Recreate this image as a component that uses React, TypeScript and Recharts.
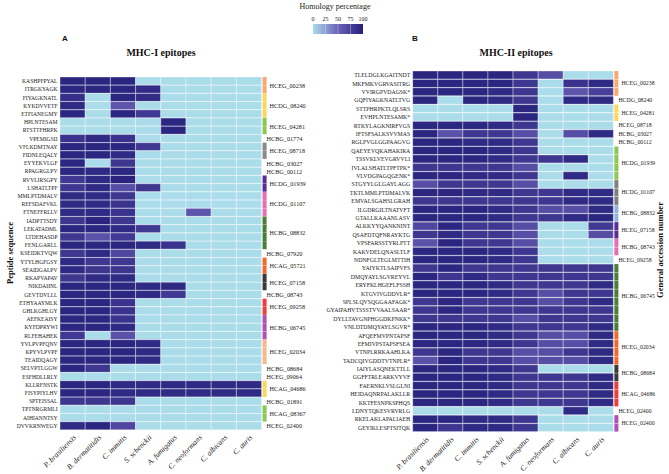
import React from "react";
import { BarChart, Bar, XAxis, YAxis, Cell, LabelList } from "recharts";

const species = [
  "P. brasiliensis",
  "B. dermatitidis",
  "C. immitis",
  "S. schenckii",
  "A. fumigatus",
  "C. neoformans",
  "C. albicans",
  "C. auris",
];

// ---------- MHC-I ----------
const mhc1Peptides = [
  "KASHPFPYAL", "ITRGKYAGK", "FIYAGKNATL", "KYKDVVETF", "ETFIANEGMY", "HPLNTESAM",
  "RTSTTFHRPK", "VPEMIGSII", "VFLKDMTNAY", "FIDNLEQALY", "EYYEKVLGF", "RPAGRGLPV",
  "RVVLIRSGPY", "LSHATLTPF", "MMLPTDMALV", "REFSDAFVKL", "FTNEFFRLLV", "IADPTTSDY",
  "LEKATADML", "LTDEHASDP", "FENLGARLL", "KSEIDKTVQW", "YTYLHGFGSY", "SEAIDGALPV",
  "RKAPVAPAV", "NIKDAIINL", "GEVTDVLLL", "ETHYAAYMLK", "GHLKGHLGY", "AEFKEAISY",
  "KYFDPRYWI", "RLFEHAHEK", "YVLPVPFQNV", "KPYVLPVPF", "TEAIDQAGY", "SELVPTLGGW",
  "ESFHDLLRLY", "KLLRFNSTK", "FISYPIYLHV", "SPTEISSAL", "TPTNRGRMLI", "AIHIANNTSY",
  "DVVKRNWEGY",
];
const mhc1Pbr = [95, 95, 88, 92, 95, 0, 0, 85, 95, 95, 95, 95, 80, 82, 92, 92, 92, 82, 95, 82, 95, 82, 92, 92, 82, 95, 95, 95, 95, 95, 95, 80, 95, 95, 95, 95, 0, 95, 95, 82, 0, 0, 92];
const mhc1Bde = [95, 95, 0, 0, 0, 0, 0, 92, 95, 95, 0, 92, 92, 92, 92, 92, 92, 96, 95, 62, 95, 92, 82, 82, 92, 95, 95, 95, 95, 95, 95, 0, 95, 95, 95, 82, 0, 95, 95, 82, 0, 0, 95];
const mhc1Cim = [95, 95, 95, 60, 95, 0, 0, 85, 95, 92, 82, 95, 96, 65, 82, 85, 85, 82, 92, 80, 95, 70, 82, 82, 92, 95, 95, 85, 85, 85, 92, 62, 95, 95, 95, 0, 0, 92, 92, 82, 0, 0, 70];
const mhc1Ssc = [0, 90, 90, 0, 80, 0, 0, 0, 80, 0, 0, 0, 0, 82, 0, 0, 0, 0, 80, 0, 92, 0, 0, 0, 0, 92, 92, 0, 0, 0, 0, 0, 92, 92, 92, 0, 0, 92, 92, 0, 0, 0, 0];
const mhc1Afu = [0, 0, 0, 0, 0, 95, 95, 0, 0, 0, 0, 0, 0, 0, 0, 0, 0, 0, 0, 0, 85, 0, 0, 0, 0, 92, 80, 0, 0, 0, 0, 0, 0, 0, 0, 0, 0, 92, 92, 0, 0, 0, 0];
const mhc1Cne = [0, 0, 0, 0, 0, 0, 0, 0, 0, 0, 0, 0, 0, 0, 0, 0, 60, 0, 0, 0, 0, 0, 0, 0, 0, 0, 0, 0, 0, 0, 0, 0, 0, 0, 0, 0, 0, 92, 92, 0, 0, 0, 0];
const mhc1Cal = [0, 0, 0, 0, 0, 0, 0, 0, 0, 0, 0, 0, 0, 0, 0, 0, 0, 0, 0, 0, 0, 0, 0, 0, 0, 0, 0, 0, 0, 0, 0, 0, 0, 0, 0, 0, 0, 92, 92, 0, 0, 0, 0];
const mhc1Cau = [0, 0, 0, 0, 0, 0, 0, 0, 0, 0, 0, 0, 0, 0, 0, 0, 0, 0, 0, 0, 0, 0, 0, 0, 0, 0, 0, 0, 0, 0, 0, 0, 0, 0, 0, 0, 0, 92, 92, 0, 0, 0, 0];
const mhc1GroupIds = [
  "HCEG_00238", "HCDG_08240", "HCEG_04281", "HCBG_01774", "HCEG_08718", "HCBG_03027",
  "HCBG_00112", "HCDG_01939", "HCDG_01107", "HCBG_08832", "HCBG_07920", "HCAG_05721",
  "HCEG_07158", "HCBG_08743", "HCEG_09258", "HCBG_06745", "HCEG_02034", "HCBG_08684",
  "HCEG_09064", "HCAG_04686", "HCBG_01891", "HCAG_08367", "HCEG_02400",
];
const mhc1GroupSizes = [2, 3, 2, 1, 2, 1, 1, 2, 3, 4, 1, 2, 2, 1, 2, 3, 3, 1, 1, 2, 1, 2, 1];
const mhc1GroupColors = [
  "#f6a971", "#fbd75b", "#8cc751", null, "#8a8a8a", null, null, "#5c2d91", "#e56fb1",
  "#4a7d35", null, "#f26a2b", "#3b3b3b", null, "#ec3e3a", "#b14fb6", "#f8b68c", null,
  null, "#fbd75b", null, "#8cc751", null,
];

// ---------- MHC-II ----------
const mhc2Peptides = [
  "TLELDGLKGAITNDT", "MKFMKVGRVASITRG", "VVIRGPVDAGSK*", "GQFIYAGKNATLTVG",
  "STTPHRPKTLQLSRS", "EVHPLNTESAMK*", "RTKYLAGKNIRFVGS", "IFTSFSALKSVVMAS",
  "RGLPVGLGGPAAGVG", "QAEYEVQKAHAKIRA", "TSSVKLVEVGRVVLI", "IVLALSHATLTPFTPK*",
  "VLVDGPAGQGENK*", "STGYYLGLGAYLAGG", "TKTLMMLPTDMALVK", "EMVALSGAHSLGRAH",
  "ILGDRGILTNATVFT", "GTALLKAAANLASV", "ALKKYYQANKNINT", "QSAFDTQFNRAYKTG",
  "VPSFARSSTYRLPTT", "KAKVDELQNASLTLF", "NDNFGLTEGLMTTIH", "YAIYKTLSAIPVFS",
  "DMQYAYLSGVREYVL", "ERYFKLHGEFLFSSH", "KTGVIVGDDVLR*", "SPLSLQVSQGGAAFAGK*",
  "GYAIPAHVTSSSTVVAALSAAR*", "DYLLTAVGNPHGGDKPNKK*", "VNLDTDMQYAYLSGVR*",
  "AFQEFMVPNTAPSF", "EFMIVPSTAPSFSEA", "VTNPLRRKAAHLKA", "TADCQIVGDDTVTNPLR*",
  "IAIYLASQNEKTTLL", "GGFFTRLEARKVYVF", "FAERNKLVSLGLNI", "HEIDAQNRPALAKLLR",
  "KKTFESNPKSPHQS", "LDNYTQKESVRVRLG", "RKELAKLAPALIAEH", "GEYIKLESPTSITQK",
];
const mhc2Pbr = [95, 95, 95, 95, 0, 0, 95, 95, 95, 95, 95, 82, 95, 65, 95, 82, 95, 95, 70, 82, 62, 95, 95, 82, 95, 95, 95, 82, 82, 82, 95, 95, 95, 82, 62, 95, 95, 95, 95, 95, 0, 95, 95];
const mhc2Bde = [95, 95, 95, 0, 0, 0, 95, 62, 95, 95, 95, 82, 95, 82, 95, 82, 95, 95, 95, 92, 95, 95, 95, 95, 82, 95, 95, 95, 95, 82, 95, 95, 95, 95, 95, 95, 95, 95, 95, 95, 0, 95, 82];
const mhc2Cim = [95, 95, 95, 95, 0, 0, 95, 82, 92, 95, 95, 82, 92, 82, 92, 82, 95, 95, 82, 82, 82, 95, 95, 82, 92, 95, 95, 82, 82, 82, 95, 95, 95, 82, 82, 95, 95, 95, 95, 95, 0, 92, 92];
const mhc2Ssc = [95, 95, 92, 92, 0, 0, 92, 82, 92, 92, 92, 82, 92, 82, 92, 82, 92, 92, 82, 82, 82, 92, 92, 82, 82, 92, 92, 82, 82, 82, 92, 92, 92, 82, 82, 92, 92, 92, 92, 92, 0, 92, 92];
const mhc2Afu = [82, 82, 82, 82, 95, 95, 82, 65, 82, 82, 82, 65, 82, 65, 82, 82, 82, 82, 65, 65, 65, 82, 82, 82, 82, 82, 82, 82, 82, 65, 82, 82, 82, 65, 65, 82, 82, 82, 82, 82, 0, 82, 82];
const mhc2Cne = [65, 0, 0, 0, 0, 0, 0, 0, 0, 0, 82, 0, 0, 0, 82, 82, 65, 82, 0, 0, 0, 0, 0, 82, 82, 82, 65, 65, 82, 82, 82, 65, 65, 65, 65, 0, 82, 82, 82, 82, 0, 0, 0];
const mhc2Cal = [0, 85, 60, 92, 0, 0, 0, 65, 0, 0, 92, 0, 92, 0, 92, 92, 65, 92, 0, 0, 0, 0, 0, 82, 82, 82, 82, 82, 82, 82, 82, 65, 65, 82, 65, 0, 82, 82, 82, 82, 92, 0, 0];
const mhc2Cau = [0, 92, 75, 92, 0, 0, 0, 92, 0, 0, 0, 0, 0, 0, 92, 92, 92, 95, 80, 65, 0, 0, 0, 82, 82, 92, 82, 92, 82, 82, 92, 92, 92, 92, 92, 0, 92, 92, 92, 92, 0, 0, 0];
const mhc2GroupIds = [
  "HCEG_00238", "HCDG_08240", "HCEG_04281", "HCEG_08718", "HCBG_03027", "HCBG_00112",
  "HCDG_01939", "HCDG_01107", "HCBG_08832", "HCEG_07158", "HCBG_08743", "HCEG_09258",
  "HCBG_06745", "HCEG_02034", "HCBG_08684", "HCAG_04686", "HCEG_02400", "HCEG_02400",
];
const mhc2GroupSizes = [3, 1, 2, 1, 1, 1, 4, 3, 2, 2, 2, 1, 8, 4, 2, 3, 1, 2];
const mhc2GroupColors = [
  "#f6a971", null, "#fbd75b", null, null, null, "#8cc751", "#7f7f7f", "#8fb2de",
  "#5c2d91", "#e56fb1", null, "#4a7d35", "#f26a2b", "#3b3b3b", "#ec3e3a", null, "#b14fb6",
];

// ---------- helpers ----------
const LOW = [171, 220, 234];
const MID = [107, 97, 184];
const HIGH = [36, 31, 122];

function heatColor(v: number) {
  const t = Math.max(0, Math.min(1, v / 100));
  const [a, b, f] = t < 0.5 ? [LOW, MID, t / 0.5] : [MID, HIGH, (t - 0.5) / 0.5];
  const c = (a as number[]).map((x, i) => Math.round(x + ((b as number[])[i] - x) * (f as number)));
  return `rgb(${c[0]},${c[1]},${c[2]})`;
}

const serif = "'Liberation Serif', 'Times New Roman', serif";
const keys = ["c0", "c1", "c2", "c3", "c4", "c5", "c6", "c7"];

function buildRows(peptides: string[], cols: number[][], sizes: number[], colors: (string | null)[]) {
  const rowGroup: number[] = [];
  sizes.forEach((s, g) => {
    for (let i = 0; i < s; i++) rowGroup.push(g);
  });
  return peptides.map((p, i) => {
    const row: any = { peptide: p, rowKey: "r" + i, gap: 0.04, strip: 0.16, group: rowGroup[i] };
    keys.forEach((k, j) => {
      row[k] = 1;
      row["v" + j] = cols[j][i];
    });
    row.stripColor = colors[rowGroup[i]] || "transparent";
    return row;
  });
}

const SpeciesTick = ({ x, y, payload }: any) => {
  const ax = x + 4;
  const ay = y + 6;
  return (
    <text
      x={ax}
      y={ay}
      transform={`rotate(-45 ${ax} ${ay})`}
      textAnchor="end"
      fontSize={7.6}
      fontStyle="italic"
      fontFamily={serif}
      fill="#1a1a1a"
    >
      {species[Math.floor(payload.value)]}
    </text>
  );
};

function Heatmap({ rows, ids, sizes, colors, width, top, bottom, yWidth, right, fontSize, idFontSize }: any) {
  const firstRow: Record<number, number> = {};
  rows.forEach((r: any, i: number) => {
    if (firstRow[r.group] === undefined) firstRow[r.group] = i;
  });
  const groupLabel = (props: any) => {
    const { x, y, width: w, height: h, value } = props;
    const i = Number(String(value).slice(1));
    const g = rows[i].group;
    if (firstRow[g] !== i) return null;
    const hasBar = !!colors[g];
    return (
      <text
        x={x + w + (hasBar ? 3 : 0)}
        y={y + (sizes[g] * h) / 2}
        dominantBaseline="central"
        fontSize={idFontSize}
        fontFamily={serif}
        fill="#1a1a1a"
      >
        {ids[g]}
      </text>
    );
  };
  return (
    <BarChart
      width={width}
      height={474}
      data={rows}
      layout="vertical"
      barCategoryGap={0}
      margin={{ top, bottom: 0, left: 0, right }}
      style={{ overflow: "visible" }}
    >
      <XAxis
        type="number"
        domain={[0, 8.2]}
        ticks={[0.5, 1.5, 2.5, 3.5, 4.5, 5.5, 6.5, 7.5]}
        interval={0}
        axisLine={false}
        tickLine={false}
        tickSize={0}
        height={bottom}
        tick={<SpeciesTick />}
      />
      <YAxis
        type="category"
        dataKey="peptide"
        width={yWidth}
        axisLine={false}
        tickLine={false}
        tickSize={0}
        tickMargin={2.5}
        interval={0}
        tick={{ fontSize, fill: "#1a1a1a", fontFamily: serif }}
      />
      {keys.map((k, j) => (
        <Bar key={k} dataKey={k} stackId="a" isAnimationActive={false}>
          {rows.map((r: any, i: number) => (
            <Cell key={i} fill={heatColor(r["v" + j])} stroke="rgba(255,255,255,0.45)" strokeWidth={0.8} />
          ))}
        </Bar>
      ))}
      <Bar dataKey="gap" stackId="a" fill="transparent" isAnimationActive={false} />
      <Bar dataKey="strip" stackId="a" isAnimationActive={false}>
        {rows.map((r: any, i: number) => (
          <Cell key={i} fill={r.stripColor} />
        ))}
        <LabelList dataKey="rowKey" content={groupLabel} />
      </Bar>
    </BarChart>
  );
}

const mhc1Rows = buildRows(
  mhc1Peptides,
  [mhc1Pbr, mhc1Bde, mhc1Cim, mhc1Ssc, mhc1Afu, mhc1Cne, mhc1Cal, mhc1Cau],
  mhc1GroupSizes,
  mhc1GroupColors
);
const mhc2Rows = buildRows(
  mhc2Peptides,
  [mhc2Pbr, mhc2Bde, mhc2Cim, mhc2Ssc, mhc2Afu, mhc2Cne, mhc2Cal, mhc2Cau],
  mhc2GroupSizes,
  mhc2GroupColors
);

const legendTicks = [0, 25, 50, 75, 100];

export default function App() {
  return (
    <div style={{ position: "absolute", left: 0, top: 0, width: 669, height: 474, background: "#fff", overflow: "hidden" }}>
      <div style={{ position: "absolute", left: 0, top: 0 }}>
        <Heatmap
          rows={mhc1Rows}
          ids={mhc1GroupIds}
          sizes={mhc1GroupSizes}
          colors={mhc1GroupColors}
          width={330}
          top={77}
          bottom={44}
          yWidth={60}
          right={63.4}
          fontSize={5.6}
          idFontSize={6.2}
        />
      </div>
      <div style={{ position: "absolute", left: 300, top: 0 }}>
        <Heatmap
          rows={mhc2Rows}
          ids={mhc2GroupIds}
          sizes={mhc2GroupSizes}
          colors={mhc2GroupColors}
          width={369}
          top={71}
          bottom={42}
          yWidth={112.7}
          right={50.6}
          fontSize={5.8}
          idFontSize={5.8}
        />
      </div>
      <svg width={669} height={474} style={{ position: "absolute", left: 0, top: 0, pointerEvents: "none" }}>
        <defs>
          <linearGradient id="homGrad" x1="0" x2="1" y1="0" y2="0">
            <stop offset="0%" stopColor={heatColor(0)} />
            <stop offset="50%" stopColor={heatColor(50)} />
            <stop offset="100%" stopColor={heatColor(100)} />
          </linearGradient>
        </defs>
        <text x={335} y={9} textAnchor="middle" fontSize={8} fontFamily={serif} fill="#222">
          Homology percentage
        </text>
        {legendTicks.map((t) => (
          <text key={t} x={313 + (t / 100) * 50} y={21} textAnchor="middle" fontSize={6} fontFamily={serif} fill="#222">
            {t}
          </text>
        ))}
        <rect x={313} y={24} width={50} height={10} fill="url(#homGrad)" />
        {[25, 50, 75].map((t) => (
          <line key={t} x1={313 + (t / 100) * 50} x2={313 + (t / 100) * 50} y1={24} y2={34} stroke="#fff" strokeOpacity={0.5} strokeWidth={0.6} />
        ))}
        <text x={62} y={41} fontSize={8} fontWeight="bold" fontFamily="'Liberation Sans', Arial, sans-serif" fill="#111">
          A
        </text>
        <text x={412} y={41} fontSize={8} fontWeight="bold" fontFamily="'Liberation Sans', Arial, sans-serif" fill="#111">
          B
        </text>
        <text x={161} y={56} textAnchor="middle" fontSize={10} fontWeight="bold" fontFamily={serif} fill="#111">
          MHC-I epitopes
        </text>
        <text x={516} y={56} textAnchor="middle" fontSize={10} fontWeight="bold" fontFamily={serif} fill="#111">
          MHC-II epitopes
        </text>
        <text x={13} y={253} transform="rotate(-90 13 253)" textAnchor="middle" fontSize={8.5} fontWeight="bold" fontFamily={serif} fill="#111">
          Peptide sequence
        </text>
        <text x={663} y={250} transform="rotate(-90 663 250)" textAnchor="middle" fontSize={8.5} fontWeight="bold" fontFamily={serif} fill="#111">
          General accession number
        </text>
      </svg>
    </div>
  );
}
